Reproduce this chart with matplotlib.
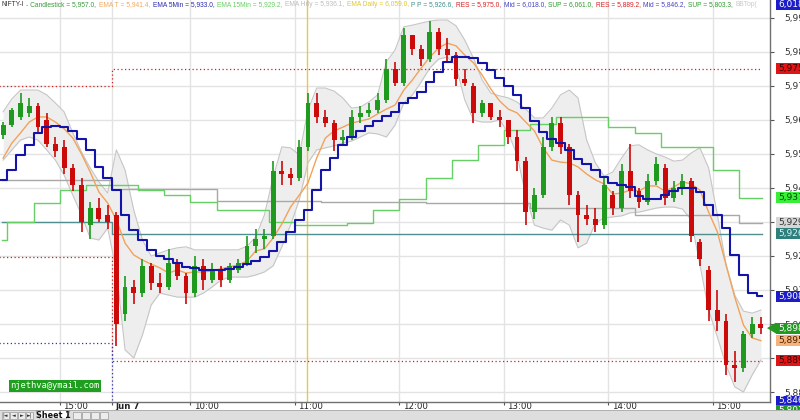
import numpy as np
import matplotlib
matplotlib.use("Agg")
import matplotlib.pyplot as plt
from matplotlib.patches import Rectangle, Polygon
import matplotlib.transforms as mtransforms

# ---------------- data ----------------
# bar start times, minutes relative to Jun 7 09:15 (previous session negative, 5-min bars)
bar_time = list(range(-65, 0, 5)) + list(range(0, 375, 5))

bar_open = [5955.5, 5958.5, 5961, 5962, 5964, 5960, 5953, 5952, 5946, 5941, 5929, 5934, 5932,
            5932, 5903, 5911, 5909, 5917, 5912, 5911, 5918, 5914, 5909,
            5917, 5913, 5916, 5913, 5916, 5918, 5923, 5925, 5926, 5945,
            5944, 5943, 5952, 5965, 5961, 5959, 5954, 5955, 5961, 5962,
            5963, 5966, 5975, 5971, 5985, 5981, 5978, 5986, 5981, 5979,
            5972, 5970, 5962, 5965, 5961, 5960, 5955, 5948, 5933, 5938,
            5952, 5959, 5952, 5938, 5932, 5931, 5929, 5938, 5934, 5945,
            5939, 5936, 5942, 5946, 5937, 5940, 5942, 5924, 5916, 5904,
            5901, 5888, 5887, 5897, 5900]
bar_high = [5959.5, 5963.5, 5968, 5966.5, 5965, 5962, 5955, 5954, 5947, 5943, 5936, 5937, 5935,
            5933, 5914, 5913, 5919, 5918, 5915, 5922, 5919, 5915, 5920,
            5919, 5918, 5917, 5918, 5919, 5926, 5928, 5928, 5948, 5948,
            5946, 5954, 5968, 5968, 5963, 5960, 5957, 5963, 5964, 5965,
            5968, 5978, 5977, 5987, 5985, 5982, 5989, 5987, 5984, 5980,
            5975, 5971, 5966, 5965, 5963, 5960, 5957, 5949, 5940, 5955,
            5961, 5961, 5953, 5939, 5935, 5934, 5943, 5939, 5947, 5953,
            5940, 5944, 5949, 5947, 5942, 5944, 5943, 5925, 5917, 5910,
            5903, 5892, 5898, 5902, 5902]
bar_low = [5954.5, 5958, 5960, 5961, 5956, 5952, 5949, 5944, 5939, 5927, 5925, 5930, 5928,
           5893.5, 5901, 5906, 5908, 5910, 5909, 5910, 5913, 5906, 5908,
           5910, 5912, 5911, 5912, 5915, 5917, 5921, 5922, 5925, 5941,
           5941, 5942, 5951, 5959, 5958, 5951, 5953, 5954, 5959, 5961,
           5962, 5965, 5970, 5970, 5979, 5976, 5977, 5979, 5977, 5970,
           5970, 5959, 5961, 5960, 5958, 5953, 5945, 5929, 5931, 5937,
           5951, 5950, 5935, 5924, 5929, 5927, 5928, 5932, 5933, 5937,
           5934, 5935, 5941, 5935, 5936, 5938, 5924, 5917, 5901, 5898,
           5885, 5883, 5886, 5896, 5897]
bar_close = [5958.5, 5963, 5965, 5964, 5958, 5953, 5951, 5946, 5941, 5930, 5934, 5931, 5930,
             5900, 5911, 5909, 5917, 5912, 5911, 5918, 5914, 5909, 5917,
             5913, 5916, 5913, 5917, 5918, 5923, 5925, 5926, 5945, 5944,
             5943, 5952, 5965, 5961, 5959, 5954, 5955, 5961, 5962, 5963,
             5966, 5975, 5971, 5985, 5981, 5978, 5986, 5981, 5979, 5972,
             5971, 5962, 5965, 5961, 5960, 5955, 5948, 5933, 5938, 5952,
             5959, 5952, 5938, 5932, 5931, 5929, 5941, 5934, 5945, 5939,
             5936, 5942, 5947, 5937, 5940, 5942, 5926, 5919, 5904, 5901,
             5888, 5887, 5897, 5900, 5898.8]

ema_5min = [5942.4, 5945.3, 5949.7, 5952.6, 5956.2, 5957.9, 5958.2, 5957.9, 5956.8, 5954.4, 5951.2, 5946.2, 5942.9,
            5939.4, 5932.1, 5927.6, 5924.7, 5921.8, 5920.0, 5919.1, 5917.9, 5916.8, 5916.5,
            5915.9, 5915.9, 5915.9, 5916.2, 5916.8, 5917.6, 5918.5, 5919.7, 5921.5, 5924.1,
            5927.1, 5930.6, 5933.5, 5939.4, 5945.3, 5948.8, 5952.6, 5955.0, 5956.8, 5958.2,
            5959.7, 5961.2, 5962.4, 5965.0, 5966.5, 5968.2, 5971.2, 5974.1, 5977.1, 5978.5,
            5978.5, 5978.2, 5976.8, 5974.7, 5972.4, 5970.0, 5967.4, 5963.5, 5959.7, 5956.5,
            5954.4, 5953.2, 5951.2, 5948.5, 5947.1, 5945.3, 5943.2, 5941.5, 5940.9, 5940.3,
            5937.6, 5936.8, 5936.8, 5937.9, 5939.1, 5940.0, 5940.0, 5938.8, 5935.0, 5932.1,
            5928.2, 5920.3, 5914.4, 5909.1, 5908.1]

ema_t = [5948.8, 5953.2, 5956.2, 5959.4, 5960.9, 5960.9, 5959.4, 5957.4, 5954.7, 5950.0, 5944.7, 5938.8, 5935.6,
         5930.6, 5923.8, 5920.3, 5918.8, 5917.6, 5916.5, 5915.0, 5915.9, 5915.0, 5915.3,
         5915.3, 5915.6, 5916.2, 5916.8, 5917.4, 5918.5, 5921.5, 5922.1, 5925.3, 5929.4,
         5934.4, 5937.9, 5941.5, 5948.8, 5954.7, 5956.8, 5957.9, 5959.1, 5959.7, 5960.3,
         5961.8, 5963.2, 5964.4, 5968.8, 5971.8, 5975.3, 5978.5, 5981.2, 5982.6, 5981.8,
         5979.1, 5976.8, 5973.2, 5969.1, 5965.6, 5963.2, 5962.1, 5959.4, 5956.8, 5951.8,
         5948.2, 5947.6, 5947.4, 5946.2, 5944.1, 5942.4, 5941.2, 5938.2, 5938.5, 5939.4,
         5939.1, 5940.6, 5940.6, 5939.1, 5940.3, 5941.8, 5941.2, 5939.4, 5932.9, 5927.1,
         5917.4, 5907.9, 5899.7, 5895.9, 5895.1]

band_upper = [5962.4, 5966.2, 5968.8, 5968.8, 5968.8, 5967.4, 5965.0, 5962.4, 5956.2, 5950.6, 5945.9, 5941.8, 5938.5,
              5951.2, 5945.3, 5933.5, 5924.7, 5920.0, 5920.9, 5921.8, 5922.4, 5922.7, 5921.8,
              5921.8, 5921.8, 5921.8, 5921.8, 5921.8, 5922.9, 5925.6, 5932.1, 5943.2, 5952.1,
              5951.8, 5949.7, 5962.9, 5969.4, 5969.4, 5968.5, 5966.5, 5963.5, 5963.8, 5965.3,
              5967.4, 5977.1, 5980.6, 5987.4, 5987.9, 5988.5, 5989.1, 5989.4, 5989.4, 5987.7,
              5983.5, 5978.2, 5971.8, 5967.9, 5967.1, 5966.5, 5965.3, 5963.2, 5960.6, 5960.6,
              5963.5, 5967.4, 5968.8, 5966.5, 5954.1, 5947.4, 5943.5, 5944.7, 5948.8, 5952.4,
              5952.7, 5951.2, 5950.0, 5949.1, 5947.9, 5948.2, 5950.3, 5951.8, 5945.9, 5932.1,
              5917.4, 5908.5, 5903.8, 5903.2, 5904.1]
band_lower = [5948.2, 5951.2, 5954.1, 5955.0, 5954.1, 5951.2, 5948.2, 5943.8, 5937.9, 5932.1, 5925.3, 5924.7, 5928.2,
              5915.9, 5892.4, 5890.0, 5896.8, 5905.6, 5909.1, 5908.5, 5907.9, 5907.9, 5907.9,
              5909.1, 5910.9, 5912.9, 5913.8, 5913.8, 5913.8, 5914.4, 5915.3, 5917.1, 5922.7,
              5929.1, 5936.5, 5947.4, 5951.2, 5951.8, 5952.4, 5953.2, 5953.8, 5955.0, 5956.2,
              5955.9, 5955.0, 5958.5, 5965.0, 5967.4, 5971.2, 5975.3, 5977.9, 5978.5, 5975.9,
              5965.9, 5960.0, 5959.4, 5959.4, 5960.0, 5956.2, 5949.7, 5937.9, 5929.1, 5928.2,
              5927.6, 5930.6, 5929.1, 5922.4, 5923.8, 5929.7, 5931.2, 5931.5, 5931.8, 5932.7,
              5932.9, 5933.5, 5934.1, 5934.4, 5934.4, 5933.8, 5930.6, 5917.4, 5904.1, 5896.2,
              5887.9, 5881.5, 5880.0, 5885.0, 5889.4]

# 15-minute EMA (step line), hourly EMA (step line), pivot point
ema15_time = [-63, -60, -45, -30, -15, 0, 15, 30, 45, 60, 75, 90, 105, 120, 135, 150, 165, 180,
              195, 210, 225, 240, 255, 270, 285, 300, 315, 330, 345, 360]
ema15_value = [5924.7, 5930.0, 5935.6, 5939.4, 5940.9, 5940.9, 5939.4, 5937.9, 5935.9, 5933.5,
               5933.5, 5930.0, 5929.2, 5929.1, 5929.7, 5933.5, 5936.8, 5942.9, 5948.2, 5952.7,
               5957.1, 5958.8, 5960.9, 5960.9, 5957.9, 5956.2, 5952.1, 5952.1, 5945.3, 5937.1]
ema_hr_time = [-63, 0, 60, 120, 180, 240, 300, 360]
ema_hr_value = [5942.4, 5939.7, 5936.1, 5935.8, 5935.5, 5934.0, 5932.1, 5929.8]
session_time = [-65, 0]
pivot_pp = [5930.0, 5926.6]
res_upper = [5970.0, 5975.0]
res_lower = [5919.7, 5889.2]
mid_lower = [5894.4, 5846.2]
line_end = 373
cursor_time = 112

tick_times = [-30, 0, 45, 105, 165, 225, 285, 345]
tick_labels = ["15:00", "Jun 7", "10:00", "11:00", "12:00", "13:00", "14:00", "15:00"]

title_names = ["- Candlestick", "EMA T", "EMA 5Min", "EMA 15Min", "EMA Hrly", "EMA Daily",
               "P P", "RES", "Mid", "SUP", "RES", "Mid", "SUP"]
title_values = ["5,957.0", "5,941.4", "5,933.0", "5,929.2", "5,936.1", "6,059.0",
                "5,926.6", "5,975.0", "6,018.0", "6,061.0", "5,889.2", "5,846.2", "5,803.3"]
title_colors = ["#3a9a3a", "#f0a860", "#2a2ab0", "#66d066", "#bdbdbd", "#e0c830",
                "#3f8f8f", "#d82020", "#4444c0", "#2a9a2a", "#d82020", "#4444c0", "#2a9a2a"]

last_values = [6018.0, 5975.0, 5937.1, 5929.8, 5926.6, 5908.1, 5898.8, 5895.1, 5889.2, 5846.2, 5803.3]
last_faces = ["#1c1cc8", "#e01414", "#38ee38", "#d6d6d6", "#2f7f7f", "#1c1cc8", "#229a22",
              "#f5b27a", "#e01414", "#1c1cc8", "#229a22"]
last_fg = ["white", "#3a0000", "#004400", "#333333", "#d8f4f4", "white", "white",
           "#4a2000", "#3a0000", "white", "white"]

# ---------------- figure ----------------
W, H = 800, 420
fig = plt.figure(figsize=(8, 4.2), dpi=100)
fig.patch.set_facecolor("white")
ax = fig.add_axes([0, 18 / H, 770 / W, 402 / H])
YMIN, YMAX = 5877.06, 5995.29
ax.set_xlim(-64.29, 377.73)
ax.set_ylim(YMIN, YMAX)
ax.set_facecolor("white")

GREEN, RED = "#1f9a1f", "#cc0a0a"

# grid / ticks
ax.set_yticks(np.arange(5880, 5991, 10))
ax.yaxis.set_major_formatter(matplotlib.ticker.FuncFormatter(lambda v, p: f"{v:,.0f}"))
ax.yaxis.tick_right()
ax.tick_params(axis="y", direction="out", length=3, pad=7, labelsize=6.5,
               colors="#555555", labelcolor="#333333")
ax.set_xticks(tick_times)
ax.set_xticklabels(tick_labels)
ax.tick_params(axis="x", direction="out", length=2.5, pad=-2.2, labelsize=6.2,
               colors="#555555", labelcolor="#222222")
for lbl in ax.get_xticklabels():
    lbl.set_horizontalalignment("left")
    lbl.set_transform(lbl.get_transform() + mtransforms.ScaledTranslation(2.5 / 72, 0, fig.dpi_scale_trans))
    if lbl.get_text() == "Jun 7":
        lbl.set_fontweight("bold")
ax.grid(True, color="#e3e3e3", lw=1, zorder=0)
ax.set_axisbelow(True)
for s in ("top", "left"):
    ax.spines[s].set_visible(False)
for s in ("right", "bottom"):
    ax.spines[s].set_color("#707070")
    ax.spines[s].set_linewidth(1)

t = np.array(bar_time, dtype=float)
tc = t + 2.5
o, h, l, c = map(np.array, (bar_open, bar_high, bar_low, bar_close))

# band
ax.fill_between(tc, band_lower, band_upper, color="#eeeeee", lw=0, zorder=1)
ax.plot(tc, band_upper, color="#c6c6c6", lw=0.8, zorder=1.2)
ax.plot(tc, band_lower, color="#c6c6c6", lw=0.8, zorder=1.2)

# cursor line
ax.axvline(cursor_time, color="#e6c84a", lw=1, zorder=1.5)

# step lines
def steps(times, vals, **kw):
    ax.step(list(times) + [line_end], list(vals) + [vals[-1]], where="post", **kw)

steps(ema_hr_time, ema_hr_value, color="#a8a8a8", lw=1, zorder=2)
steps([-63, 0], pivot_pp, color="#4f8f8f", lw=1, zorder=2)
steps(ema15_time, ema15_value, color="#66d066", lw=1, zorder=2)
steps(session_time, res_upper, color="#cc2222", lw=0.9, ls=(0, (1, 2)), zorder=2)
steps(session_time, res_lower, color="#cc2222", lw=0.9, ls=(0, (1, 2)), zorder=2)
steps(session_time, mid_lower, color="#3333aa", lw=0.9, ls=(0, (1, 2)), zorder=2)

# EMA T (orange)
ax.plot(tc, ema_t, color="#f2a25a", lw=1, zorder=3)

# candles
col = np.where(c >= o, GREEN, RED)
ax.vlines(tc, l, h, colors=col, lw=1.2, zorder=4)
ax.bar(tc, np.maximum(np.abs(c - o), 0.35), bottom=np.minimum(o, c), width=2.8,
       color=col, lw=0, zorder=4)

# EMA 5 min (blue step)
ax.step(list(t) + [line_end], ema_5min + [ema_5min[-1]], where="post", color="#1414a8", lw=1.5, zorder=5)

# ---------------- title ----------------
fig.canvas.draw()
renderer = fig.canvas.get_renderer()
pieces = [("NIFTY-I", "#333333")]
for n, v, cl in zip(title_names, title_values, title_colors):
    pieces.append((f"{n} = {v},", cl))
pieces.append(("BBTop(", "#c8c8c8"))

fs = 6.0
texts = []
x = 1.0
for txt, cl in pieces:
    tt = fig.text(x / W, 1 - 5 / H, txt, color=cl, fontsize=fs, va="center", ha="left",
                  family="Liberation Sans")
    texts.append(tt)
    x += tt.get_window_extent(renderer).width + 3.2
scale = 768.0 / x
x = 1.0
for tt in texts:
    tt.set_fontsize(fs * scale)
    tt.set_x(x / W)
    x += tt.get_window_extent(renderer).width + 3.2 * scale

# ---------------- last value boxes ----------------
def ypix_of(v):
    return (YMAX - v) / ((YMAX - YMIN) / 402.0)

used_bottom = 0
for v, fc, fg in zip(last_values, last_faces, last_fg):
    yp = ypix_of(v)
    if yp < 5:
        yp = 5
    if yp > 400:
        yp = 401 + used_bottom * 9
        used_bottom += 1
    y0 = 1 - yp / H
    hh = 11 / H
    fig.patches.append(Rectangle((776 / W, y0 - hh / 2), 30 / W, hh, transform=fig.transFigure,
                                 facecolor=fc, edgecolor="none", zorder=10))
    if abs(v - bar_close[-1]) < 0.01:
        fig.patches.append(Polygon([(767 / W, y0), (776 / W, y0 + 5.5 / H), (776 / W, y0 - 5.5 / H)],
                                   closed=True, transform=fig.transFigure, facecolor=fc,
                                   edgecolor="none", zorder=10))
    fig.text(778 / W, y0, f"{v:,.1f}", color=fg, fontsize=6.5, va="center", ha="left", zorder=11,
             family="DejaVu Sans")

# ---------------- email box ----------------
fig.text(55 / W, 1 - 386 / H, "njethva@ymail.com", color="white", fontsize=6.3,
         family="DejaVu Sans Mono", ha="center", va="center",
         bbox=dict(boxstyle="square,pad=0.2", fc="#1f9e1f", ec="none"))

# ---------------- sheet tab bar ----------------
fig.patches.append(Rectangle((0, 0), 1, 9.5 / H, transform=fig.transFigure,
                             facecolor="#dedede", edgecolor="none", zorder=20))
fig.patches.append(Rectangle((0, 9.5 / H), 1, 0.6 / H, transform=fig.transFigure,
                             facecolor="#b0b0b0", edgecolor="none", zorder=20))
for i, g in enumerate(["|◄", "◄", "►", "►|"]):
    x0 = 2 + i * 8
    fig.patches.append(Rectangle((x0 / W, 1 / H), 7 / W, 7.5 / H, transform=fig.transFigure,
                                 facecolor="#ececec", edgecolor="#9a9a9a", lw=0.5, zorder=21))
    fig.text((x0 + 3.5) / W, 4.8 / H, g, fontsize=3.5, ha="center", va="center", zorder=22,
             color="#333333")
fig.patches.append(Polygon([(36 / W, 9.5 / H), (40 / W, 1 / H), (66 / W, 1 / H), (70 / W, 9.5 / H)],
                           closed=True, transform=fig.transFigure, facecolor="white",
                           edgecolor="#888888", lw=0.5, zorder=21))
fig.text(53 / W, 4.8 / H, "Sheet 1", fontsize=5.8, fontweight="bold", ha="center", va="center",
         zorder=22, color="#111111")
for i in range(4):
    x0 = 73 + i * 9
    fig.patches.append(Rectangle((x0 / W, 1 / H), 8 / W, 7.5 / H, transform=fig.transFigure,
                                 facecolor="#ececec", edgecolor="#9a9a9a", lw=0.5, zorder=21))

fig.savefig("out.png", dpi=100, facecolor="white")
